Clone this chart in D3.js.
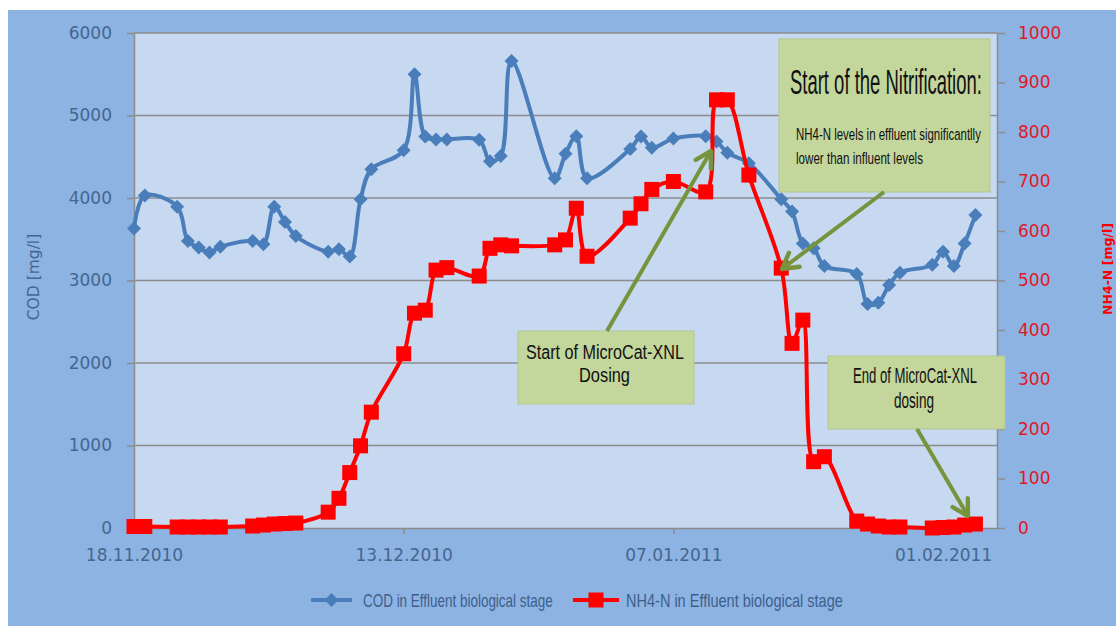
<!DOCTYPE html>
<html>
<head>
<meta charset="utf-8">
<script src="https://cdn.jsdelivr.net/npm/d3@7"></script>
<style>
body { margin: 0; background: #ffffff; }
svg { display: block; }
</style>
</head>
<body>
<div id="chart-area"></div>
<script>
// sample dates (working days), shared by both series
var dates = ["2010-11-18","2010-11-19","2010-11-22","2010-11-23","2010-11-24","2010-11-25","2010-11-26",
    "2010-11-29","2010-11-30","2010-12-01","2010-12-02","2010-12-03","2010-12-06","2010-12-07","2010-12-08",
    "2010-12-09","2010-12-10","2010-12-13","2010-12-14","2010-12-15","2010-12-16","2010-12-17","2010-12-20",
    "2010-12-21","2010-12-22","2010-12-23","2010-12-27","2010-12-28","2010-12-29","2010-12-30","2011-01-03",
    "2011-01-04","2011-01-05","2011-01-07","2011-01-10","2011-01-11","2011-01-12","2011-01-14","2011-01-17",
    "2011-01-18","2011-01-19","2011-01-20","2011-01-21","2011-01-24","2011-01-25","2011-01-26","2011-01-27",
    "2011-01-28","2011-01-31","2011-02-01","2011-02-02","2011-02-03","2011-02-04"];

var cod = [3630,4030,3895,3480,3400,3340,3410,3480,3440,3895,3710,3540,3350,3380,3290,3985,4350,
    4580,5500,4745,4710,4710,4705,4445,4510,5660,4240,4535,4750,4240,4595,4745,4610,4720,4750,4685,
    4550,4420,3985,3835,3450,3390,3175,3080,2715,2730,2945,3095,3190,3350,3175,3450,3795];

var nh4 = [3,3,2,2,2,2,2,4,6,8,9,10,32,60,112,166,234,352,434,440,521,526,509,565,572,570,572,582,
    646,549,626,655,684,700,679,865,865,713,525,373,420,134,144,14,8,4,2,2,0,1,2,6,8];

var dateTicks = ["2010-11-18","2010-12-13","2011-01-07","2011-02-01"];
var codTicks = [0,1000,2000,3000,4000,5000,6000];
var nh4Ticks = [0,100,200,300,400,500,600,700,800,900,1000];

var seriesNames = ["COD in Effluent biological stage", "NH4-N in Effluent biological stage"];

var parse = d3.utcParse("%Y-%m-%d");
var fmt = d3.utcFormat("%d.%m.%Y");

var width = 1116, height = 626;
var plot = {left: 134, right: 997, top: 33, bottom: 528};

var x = d3.scaleUtc()
    .domain([parse("2010-11-18"), parse("2011-02-06")])
    .range([plot.left, plot.right]);
var yCod = d3.scaleLinear().domain([0, 6000]).range([plot.bottom, plot.top]);
var yNh4 = d3.scaleLinear().domain([0, 1000]).range([plot.bottom, plot.top]);

var blue = "#4a7ebb", red = "#ff0000", axisText = "#45668f", green = "#77933c";
var numFont = "'DejaVu Sans', sans-serif";
var narrowFont = "'Liberation Sans Narrow', 'Liberation Sans', sans-serif";

var svg = d3.select("#chart-area").append("svg")
    .attr("width", width)
    .attr("height", height);

// backgrounds
svg.append("rect").attr("x", 8).attr("y", 10).attr("width", width - 8).attr("height", height - 10)
    .attr("fill", "#8db3e2");
svg.append("rect").attr("x", plot.left).attr("y", plot.top)
    .attr("width", plot.right - plot.left).attr("height", plot.bottom - plot.top)
    .attr("fill", "#c6d9f1");

// gridlines
svg.append("g").selectAll("line").data(codTicks.filter(function(d){ return d > 0; }))
    .enter().append("line")
    .attr("x1", plot.left).attr("x2", plot.right)
    .attr("y1", function(d){ return yCod(d); })
    .attr("y2", function(d){ return yCod(d); })
    .attr("stroke", "#8c8c8c").attr("stroke-width", 1.5);

// axes
function styleAxis(g, color, size) {
    g.selectAll("path, line").attr("stroke", "#8c8c8c").attr("stroke-width", 1.5);
    g.selectAll("text").attr("fill", color).attr("font-size", size).attr("font-family", numFont);
}

svg.append("g")
    .attr("transform", "translate(" + plot.left + ",0)")
    .call(d3.axisLeft(yCod).tickValues(codTicks).tickFormat(d3.format("d"))
        .tickSize(7).tickPadding(15).tickSizeOuter(0))
    .call(styleAxis, axisText, 17);

svg.append("g")
    .attr("transform", "translate(" + plot.right + ",0)")
    .call(d3.axisRight(yNh4).tickValues(nh4Ticks).tickFormat(d3.format("d"))
        .tickSize(8).tickPadding(13).tickSizeOuter(0))
    .call(styleAxis, "#e3171f", 17);

svg.append("g")
    .attr("transform", "translate(0," + plot.bottom + ")")
    .call(d3.axisBottom(x).tickValues(dateTicks.map(parse)).tickFormat(fmt)
        .tickSize(6).tickPadding(15).tickSizeOuter(0))
    .call(styleAxis, axisText, 17);

// axis titles
svg.append("text")
    .attr("transform", "translate(39,277) rotate(-90)")
    .attr("text-anchor", "middle")
    .attr("font-family", numFont).attr("font-size", 15.5)
    .attr("fill", axisText)
    .text("COD [mg/l]");

svg.append("text")
    .attr("transform", "translate(1112,269) rotate(-90)")
    .attr("text-anchor", "middle")
    .attr("font-family", numFont).attr("font-size", 12.5).attr("font-weight", "bold")
    .attr("fill", red)
    .text("NH4-N [mg/l]");

// series
var pts = dates.map(function(d, i){ return {date: parse(d), cod: cod[i], nh4: nh4[i]}; });

var codLine = d3.line()
    .x(function(d){ return x(d.date); })
    .y(function(d){ return yCod(d.cod); })
    .curve(d3.curveCatmullRom.alpha(0.5));
var nh4Line = d3.line()
    .x(function(d){ return x(d.date); })
    .y(function(d){ return yNh4(d.nh4); })
    .curve(d3.curveCatmullRom.alpha(0.5));

var diamond = "M0,-7L7,0L0,7L-7,0Z";

svg.append("path").datum(pts)
    .attr("d", codLine)
    .attr("fill", "none").attr("stroke", blue).attr("stroke-width", 4);
svg.append("g").selectAll("path").data(pts).enter().append("path")
    .attr("d", diamond)
    .attr("transform", function(d){ return "translate(" + x(d.date) + "," + yCod(d.cod) + ")"; })
    .attr("fill", blue);

svg.append("path").datum(pts)
    .attr("d", nh4Line)
    .attr("fill", "none").attr("stroke", red).attr("stroke-width", 4);
svg.append("g").selectAll("rect").data(pts).enter().append("rect")
    .attr("x", function(d){ return x(d.date) - 7.5; })
    .attr("y", function(d){ return yNh4(d.nh4) - 7.5; })
    .attr("width", 15).attr("height", 15)
    .attr("fill", red);

// squeezed text: measure it, then scale it horizontally to the wanted width
function narrowText(parent, str, xPos, yPos, size, w, color) {
    var t = parent.append("text")
        .attr("font-family", narrowFont).attr("font-size", size)
        .attr("fill", color)
        .text(str);
    var len = t.node().getComputedTextLength();
    t.attr("transform", "translate(" + xPos + "," + yPos + ") scale(" + (w / len) + ",1)");
    return t;
}

// callouts
var defs = svg.append("defs");
defs.append("marker")
    .attr("id", "chev")
    .attr("markerUnits", "userSpaceOnUse")
    .attr("viewBox", "0 0 20 20")
    .attr("refX", 17).attr("refY", 10)
    .attr("markerWidth", 22).attr("markerHeight", 22)
    .attr("orient", "auto")
    .append("path")
    .attr("d", "M3,2 L17,10 L3,18")
    .attr("fill", "none").attr("stroke", green).attr("stroke-width", 4)
    .attr("stroke-linecap", "round").attr("stroke-linejoin", "round");

var callouts = [
    {box: [779, 39, 211, 153], arrow: [884, 192, 782, 269], lines: [
        {t: "Start of the Nitrification:", x: 790, y: 94, size: 35, w: 192},
        {t: "NH4-N levels in effluent significantlly", x: 796, y: 140, size: 17, w: 185},
        {t: "lower than influent levels", x: 796, y: 164, size: 17, w: 127}]},
    {box: [518, 331, 176, 73], arrow: [607, 331, 711, 151], lines: [
        {t: "Start of MicroCat-XNL", x: 526, y: 359, size: 21, w: 158},
        {t: "Dosing", x: 579, y: 382, size: 21, w: 51}]},
    {box: [828, 356, 177, 73], arrow: [917, 429, 968, 516], lines: [
        {t: "End of MicroCat-XNL", x: 853, y: 383, size: 22, w: 124},
        {t: "dosing", x: 894, y: 408, size: 22, w: 40}]}
];

callouts.forEach(function(c){
    var g = svg.append("g");
    g.append("rect")
        .attr("x", c.box[0]).attr("y", c.box[1]).attr("width", c.box[2]).attr("height", c.box[3])
        .attr("fill", "#c3d69b").attr("stroke", "#b3c78f").attr("stroke-width", 1);
    g.append("line")
        .attr("x1", c.arrow[0]).attr("y1", c.arrow[1]).attr("x2", c.arrow[2]).attr("y2", c.arrow[3])
        .attr("stroke", green).attr("stroke-width", 4)
        .attr("marker-end", "url(#chev)");
    c.lines.forEach(function(l){
        narrowText(g, l.t, l.x, l.y, l.size, l.w, "#111111");
    });
});

// legend
var legend = svg.append("g");
legend.append("line").attr("x1", 311).attr("x2", 352).attr("y1", 600).attr("y2", 600)
    .attr("stroke", blue).attr("stroke-width", 4);
legend.append("path").attr("d", diamond).attr("transform", "translate(331.5,600)").attr("fill", blue);
narrowText(legend, seriesNames[0], 363, 607, 18, 190, "#3d5f8c");

legend.append("line").attr("x1", 573).attr("x2", 619).attr("y1", 600).attr("y2", 600)
    .attr("stroke", red).attr("stroke-width", 4);
legend.append("rect").attr("x", 588.5).attr("y", 592.5).attr("width", 15).attr("height", 15).attr("fill", red);
narrowText(legend, seriesNames[1], 626, 607, 18, 217, "#3d5f8c");
</script>
</body>
</html>
